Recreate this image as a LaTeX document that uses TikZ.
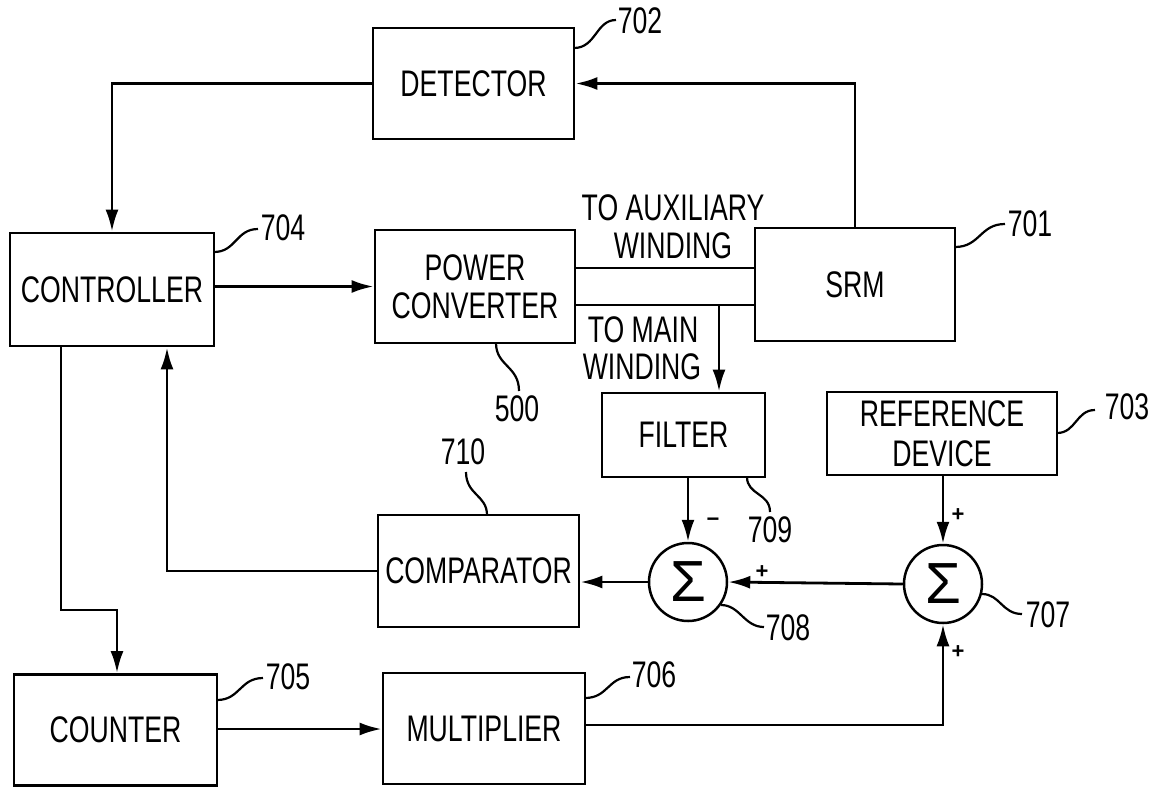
\documentclass[tikz,border=0pt]{standalone}
\usepackage{fontspec}
\setmainfont{Liberation Sans}
\newfontfamily\nar[FakeStretch=0.72]{Liberation Sans}
\usetikzlibrary{arrows.meta}
\begin{document}
\begin{tikzpicture}[x=1pt,y=-1pt,
  every node/.style={font=\nar\fontsize{37}{38}\selectfont, inner sep=0pt},
  blk/.style={draw, line width=2.8pt, align=center},
  sum/.style={circle, draw, line width=2.5pt, minimum size=78pt, font=\fontsize{58}{58}\selectfont},
  arr/.style={-{Latex[length=22pt,width=13pt]}, line width=2.8pt},
  wire/.style={line width=2.8pt},
  lead/.style={line width=2.2pt},
  sgn/.style={font=\bfseries\fontsize{22}{22}\selectfont}
]
\useasboundingbox (0,0) rectangle (1154,788);
% blocks
\node[blk, minimum width=201pt, minimum height=111pt] (det) at (473.5,83.5) {DETECTOR};
\node[blk, minimum width=204pt, minimum height=113pt] (ctrl) at (112,289.5) {CONTROLLER};
\node[blk, minimum width=200pt, minimum height=113pt] (pc) at (475,286.5) {POWER\\CONVERTER};
\node[blk, minimum width=200pt, minimum height=113pt] (srm) at (855,284.5) {SRM};
\node[blk, minimum width=163pt, minimum height=84pt] (filt) at (683.5,435) {FILTER};
\node[blk, minimum width=230pt, minimum height=83pt] (ref) at (942,433.5) {REFERENCE\\[2pt]DEVICE};
\node[blk, minimum width=201pt, minimum height=112pt] (comp) at (478.5,571) {COMPARATOR};
\node[blk, minimum width=203pt, minimum height=111pt] (cnt) at (115.5,730) {COUNTER};
\node[blk, minimum width=202pt, minimum height=111pt] (mult) at (484,728.5) {MULTIPLIER};
\node[sum] (s708) at (688,582) {Σ};
\node[sum] (s707) at (943,584) {Σ};
% winding texts
\node (aux1) at (673,208) {TO AUXILIARY};
\node (aux2) at (673,246) {WINDING};
\node (main1) at (643,330) {TO MAIN};
\node (main2) at (642,367) {WINDING};
% connectors
\draw[arr] (det.west) -| (ctrl.north);
\draw[arr] (srm.north) |- (det.east);
\draw[arr] (ctrl.east |- pc.west) -- (pc.west);
\draw[wire] (pc.east |- 0,268) -- (srm.west |- 0,268);
\draw[wire] (pc.east |- 0,305) -- (srm.west |- 0,305);
\coordinate (tap) at (719,305);
\draw[arr] (tap) -- (tap |- filt.north);
\draw[arr] (filt.south -| s708) -- (s708.north);
\draw[arr] (ref.south -| s707) -- (s707.north);
\draw[arr] (s707.west) -- (s708.east);
\draw[arr] (s708.west) -- (s708.west -| comp.east);
\draw[arr] (comp.west) -| (ctrl.south -| 167,0);
\coordinate (bend) at (117,610);
\draw[arr] (ctrl.south -| 61,0) |- (bend) -- (bend |- cnt.north);
\draw[arr] (cnt.east |- 0,729) -- (mult.west |- 0,729);
\draw[arr] (mult.east |- 0,725) -| (s707.south);
% signs
\node[sgn] (m1) at (713,522) {−};
\node[sgn] (p1) at (762,572) {+};
\node[sgn] (p2) at (958,515) {+};
\node[sgn] (p3) at (958,652) {+};
% reference labels
\node (l702) at (640,21) {702};
\draw[lead] (574,48) .. controls (596,48) and (596,20) .. (616,20);
\node (l704) at (283,228) {704};
\draw[lead] (214,252) .. controls (236,252) and (236,229) .. (258,229);
\node (l701) at (1030,224) {701};
\draw[lead] (955,247) .. controls (980,247) and (980,224) .. (1005,224);
\node (l703) at (1127,407) {703};
\draw[lead] (1057,433) .. controls (1076,433) and (1076,410) .. (1095,410);
\node (l705) at (288,677) {705};
\draw[lead] (217,700) .. controls (240,700) and (240,678) .. (263,678);
\node (l706) at (654,675) {706};
\draw[lead] (585,698) .. controls (608,698) and (608,677) .. (630,677);
\node (l707) at (1048,615) {707};
\draw[lead] (982,594) .. controls (1000,594) and (1002,614) .. (1022,614);
\node (l708) at (788,628) {708};
\draw[lead] (721,605) .. controls (740,605) and (744,627) .. (764,627);
\node (l709) at (770,530) {709};
\draw[lead] (747,477) .. controls (747,495) and (770,493) .. (770,512);
\node (l710) at (463,452) {710};
\draw[lead] (487,515) .. controls (487,495) and (466,495) .. (466,472);
\node (l500) at (517,409) {500};
\draw[lead] (496,343) .. controls (496,366) and (519,366) .. (519,391);
\end{tikzpicture}
\end{document}
